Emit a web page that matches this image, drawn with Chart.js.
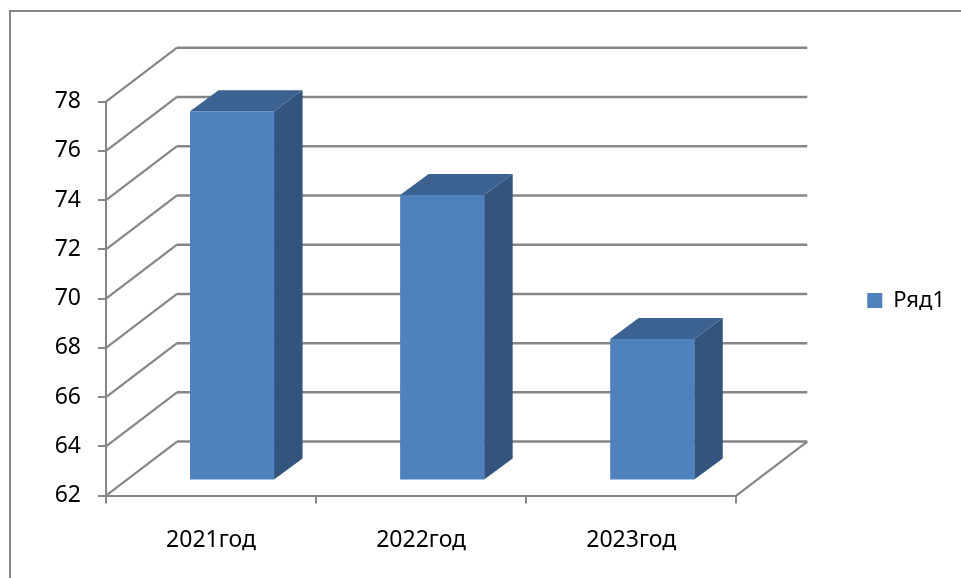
<!DOCTYPE html>
<html>
<head>
<meta charset="utf-8">
<script src="https://cdn.jsdelivr.net/npm/chart.js@4"></script>
<style>
  html, body { margin: 0; padding: 0; background: #ffffff; }
  canvas { display: block; }
</style>
</head>
<body>
<canvas id="chart" width="961" height="578"></canvas>
<script>
const categories = ["2021год", "2022год", "2023год"];
const seriesName = "Ряд1";
const seriesValues = [77, 73.6, 67.75];
const yMin = 62;
const yMax = 78;
const yStep = 2;

const lineColor = "#868686";
const frontColor = "#4F81BD";
const sideColor = "#32547E";
const topColor = "#3B6290";
const fontFamily = "'Noto Sans', sans-serif";

// Excel style 3D look: walls and bar sides are added around the normal 2D chart
const wallDepth = { x: 71, y: -54 };
const barShift = { x: 21, y: -15 };
const barDepth = { x: 28.5, y: -21 };

function strokeLine(ctx, x1, y1, x2, y2, width) {
  ctx.lineWidth = width;
  ctx.strokeStyle = lineColor;
  ctx.beginPath();
  ctx.moveTo(x1, y1);
  ctx.lineTo(x2, y2);
  ctx.stroke();
}

const frame3d = {
  id: "frame3d",
  beforeDraw(chart) {
    const ctx = chart.ctx;
    // outer frame, only top and left are visible in the reference
    strokeLine(ctx, 961, 11, 10, 11, 2);
    strokeLine(ctx, 10, 10, 10, 578, 2);
  },
  beforeDatasetsDraw(chart) {
    const ctx = chart.ctx;
    const { left, right, bottom } = chart.chartArea;
    chart.scales.y.ticks.forEach((tick) => {
      const y = chart.scales.y.getPixelForValue(tick.value);
      strokeLine(ctx, left, y, left + wallDepth.x, y + wallDepth.y, 2.2);
      strokeLine(ctx, left + wallDepth.x, y + wallDepth.y, right + wallDepth.x, y + wallDepth.y, 2.5);
    });
    strokeLine(ctx, right, bottom, right + wallDepth.x, bottom + wallDepth.y, 2.2);

    ctx.save();
    ctx.translate(barShift.x, barShift.y);
    chart.getDatasetMeta(0).data.forEach((bar) => {
      const x1 = bar.x - bar.width / 2;
      const x2 = bar.x + bar.width / 2;
      ctx.fillStyle = sideColor;
      ctx.beginPath();
      ctx.moveTo(x2, bar.y);
      ctx.lineTo(x2 + barDepth.x, bar.y + barDepth.y);
      ctx.lineTo(x2 + barDepth.x, bar.base + barDepth.y);
      ctx.lineTo(x2, bar.base);
      ctx.closePath();
      ctx.fill();
      ctx.fillStyle = topColor;
      ctx.beginPath();
      ctx.moveTo(x1, bar.y);
      ctx.lineTo(x1 + barDepth.x, bar.y + barDepth.y);
      ctx.lineTo(x2 + barDepth.x, bar.y + barDepth.y);
      ctx.lineTo(x2, bar.y);
      ctx.closePath();
      ctx.fill();
    });
  },
  afterDatasetsDraw(chart) {
    chart.ctx.restore();
  },
};

new Chart(document.getElementById("chart").getContext("2d"), {
  type: "bar",
  data: {
    labels: categories,
    datasets: [
      {
        label: seriesName,
        data: seriesValues,
        base: yMin,
        backgroundColor: frontColor,
        barPercentage: 0.4,
        categoryPercentage: 1,
        xAxisID: "x",
        yAxisID: "y",
        clip: false,
      },
    ],
  },
  options: {
    responsive: false,
    animation: false,
    layout: {
      padding: { top: 23, right: 6, bottom: 0, left: 0 },
    },
    scales: {
      x: {
        position: "bottom",
        grid: {
          drawOnChartArea: false,
          color: lineColor,
          lineWidth: 2,
          tickLength: 8,
        },
        border: { color: lineColor, width: 2 },
        ticks: {
          color: "#000000",
          padding: 23,
          maxRotation: 0,
          font: { size: 23, family: fontFamily },
        },
        afterFit(scale) {
          scale.height = 82.4;
        },
      },
      y: {
        position: "left",
        min: yMin,
        max: yMax,
        grid: {
          drawOnChartArea: false,
          color: lineColor,
          lineWidth: 2,
          tickLength: 8,
        },
        border: { color: lineColor, width: 2 },
        ticks: {
          stepSize: yStep,
          color: "#000000",
          padding: 17,
          font: { size: 23, family: fontFamily },
        },
        afterFit(scale) {
          scale.width = 106;
        },
      },
      // empty axes, they only reserve the room the 3D depth needs
      xTop: {
        type: "category",
        position: "top",
        ticks: { display: false },
        grid: { display: false },
        border: { display: false },
        afterFit(scale) {
          scale.height = 78.7;
        },
      },
      yRight: {
        type: "linear",
        position: "right",
        ticks: { display: false },
        grid: { display: false },
        border: { display: false },
        afterFit(scale) {
          scale.width = 121;
        },
      },
    },
    plugins: {
      title: { display: false },
      tooltip: { enabled: false },
      legend: {
        position: "right",
        labels: {
          color: "#000000",
          boxWidth: 15,
          boxHeight: 15,
          font: { size: 22, family: fontFamily },
        },
      },
    },
  },
  plugins: [frame3d],
});
</script>
</body>
</html>
